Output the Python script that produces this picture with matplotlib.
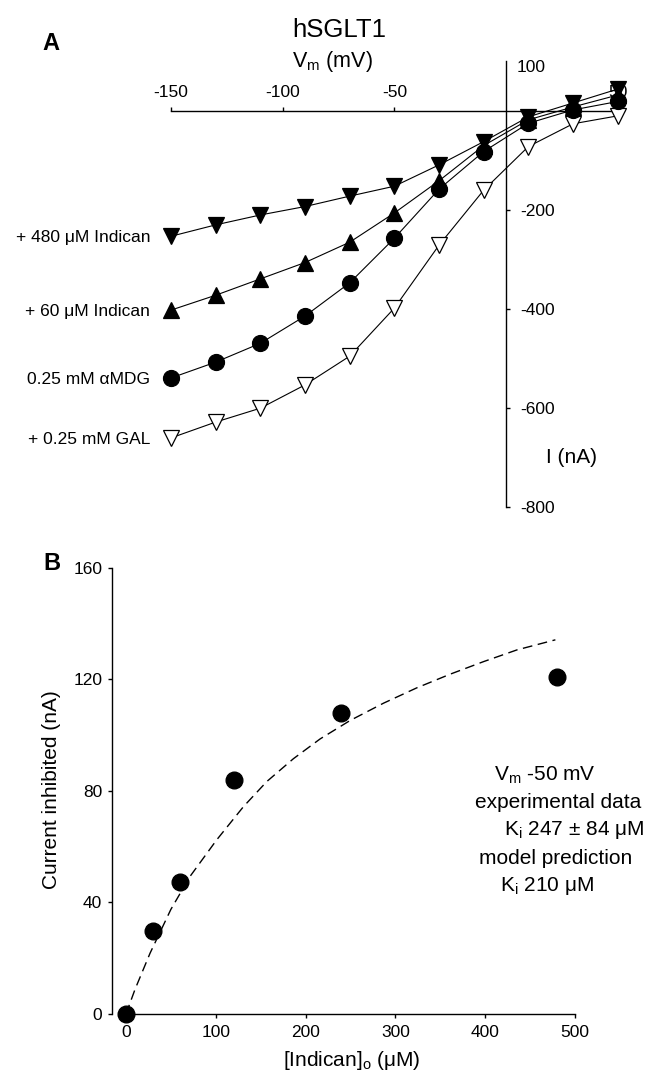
import matplotlib
matplotlib.use('Agg')
import matplotlib.pyplot as plt

plt.rcParams['font.family'] = ['Liberation Sans', 'DejaVu Sans']
plt.rcParams['mathtext.fontset'] = 'custom'
plt.rcParams['mathtext.rm'] = 'Liberation Sans'
plt.rcParams['mathtext.it'] = 'Liberation Sans:italic'
plt.rcParams['axes.unicode_minus'] = False

# Panel A: I-V curves
vm = [-150, -130, -110, -90, -70, -50, -30, -10, 10, 30, 50]
i_ind480 = [-253, -230, -210, -193, -172, -152, -109, -62, -12, 16, 44]
i_ind60 = [-402, -372, -339, -306, -265, -206, -141, -70, -18, 8, 32]
i_amdg = [-539, -507, -469, -414, -347, -257, -158, -82, -25, 2, 19]
i_gal = [-660, -628, -600, -553, -495, -398, -271, -160, -72, -26, -10]

# Panel B: inhibition by indican at -50 mV
conc = [0, 30, 60, 120, 240, 480]
inhib = [0, 29.7, 47.3, 83.9, 107.9, 120.8]
conc_model = [0, 10, 26.8, 50, 71.3, 101, 130.8, 156.8, 186.5, 216.3,
              249.7, 286.9, 324, 361.2, 398.4, 435.6, 478.3]
inhib_model = [0, 8.8, 21.8, 37.5, 49.3, 62.4, 74.3, 83.3, 91.5, 98.6,
               105.2, 111.4, 116.9, 121.8, 126.3, 130.5, 134.1]

W, H = 656, 1073
fig = plt.figure(figsize=(W / 100, H / 100), dpi=100)


def px_axes(x0, y0, x1, y1):
    return fig.add_axes([x0 / W, 1 - y1 / H, (x1 - x0) / W, (y1 - y0) / H])


def ftext(x, y, s, **kw):
    fig.text(x / W, 1 - y / H, s, **kw)


# ---- panel A ----
axA = px_axes(148.7, 46.5, 640, 517.2)
axA.set_xlim(-160, 60)
axA.set_ylim(-820, 130)
axA.patch.set_visible(False)
axA.spines['bottom'].set_visible(False)
axA.spines['left'].set_visible(False)
axA.spines['top'].set_position(('data', 0))
axA.spines['top'].set_bounds(-150, 53)
axA.spines['right'].set_position(('data', 0))
axA.spines['right'].set_bounds(-800, 100)
for s in ('top', 'right'):
    axA.spines[s].set_linewidth(1.0)

axA.xaxis.set_ticks_position('top')
axA.set_xticks([-150, -100, -50, 50])
axA.yaxis.set_ticks_position('right')
axA.set_yticks([-200, -400, -600, -800])
axA.tick_params(axis='x', direction='out', length=3, width=1, labelsize=12.5, pad=5)
axA.tick_params(axis='y', direction='out', length=3, width=1, labelsize=12.5, pad=7)

series = [
    (i_gal, 'v', 'white', '+ 0.25 mM GAL'),
    (i_amdg, 'o', 'black', '0.25 mM \u03b1MDG'),
    (i_ind60, '^', 'black', '+ 60 \u03bcM Indican'),
    (i_ind480, 'v', 'black', '+ 480 \u03bcM Indican'),
]
for vals, mk, fc, lab in series:
    ms = 11.5 if mk == 'o' else 11
    axA.plot(vm, vals, '-', color='black', lw=0.8, marker=mk, ms=ms,
             mfc=fc, mec='black', mew=0.9, clip_on=False, zorder=3)
    axA.annotate(lab, xy=(vm[0], vals[0]), xytext=(-15, -1),
                 textcoords='offset points', ha='right', va='center',
                 fontsize=12.5)

ftext(517, 67, '100', fontsize=12.5, ha='left', va='center')
ftext(572, 457, 'I (nA)', fontsize=15, ha='center', va='center')
ftext(339, 30, 'hSGLT1', fontsize=18.5, ha='center', va='center')
ftext(332, 61, 'V$_\\mathregular{m}$ (mV)', fontsize=15.5, ha='center', va='center')
ftext(51, 44, 'A', fontsize=17, fontweight='bold', ha='center', va='center')

# ---- panel B ----
axB = px_axes(112, 553.6, 600, 1014)
axB.set_xlim(-15.6, 528)
axB.set_ylim(0, 165)
axB.patch.set_visible(False)
axB.spines['top'].set_visible(False)
axB.spines['right'].set_visible(False)
axB.spines['left'].set_bounds(0, 160)
axB.spines['bottom'].set_bounds(0, 500)
for s in ('left', 'bottom'):
    axB.spines[s].set_linewidth(1.0)
axB.set_xticks([0, 100, 200, 300, 400, 500])
axB.set_yticks([0, 40, 80, 120, 160])
axB.tick_params(direction='out', length=3, width=1, labelsize=12.5)
axB.tick_params(axis='x', pad=5)
axB.tick_params(axis='y', pad=4)

axB.plot(conc_model, inhib_model, color='black', lw=1.0, dashes=(7, 4),
         clip_on=False)
axB.plot(conc, inhib, 'o', color='black', ms=12, clip_on=False, zorder=3)

ftext(52, 790, 'Current inhibited (nA)', fontsize=15, rotation=90,
      ha='center', va='center')
ftext(352, 1061, '[Indican]$_\\mathregular{o}$ (\u03bcM)', fontsize=15,
      ha='center', va='center')
ftext(52, 564, 'B', fontsize=17, fontweight='bold', ha='center', va='center')

ftext(545, 775, 'V$_\\mathregular{m}$ -50 mV', fontsize=15, ha='center', va='center')
ftext(558, 803, 'experimental data', fontsize=15, ha='center', va='center')
ftext(574, 830, 'K$_\\mathregular{i}$ 247 \u00b1 84 \u03bcM', fontsize=15,
      ha='center', va='center')
ftext(556, 859, 'model prediction', fontsize=15, ha='center', va='center')
ftext(547, 886, 'K$_\\mathregular{i}$ 210 \u03bcM', fontsize=15, ha='center', va='center')

fig.savefig('out.png', dpi=100)
